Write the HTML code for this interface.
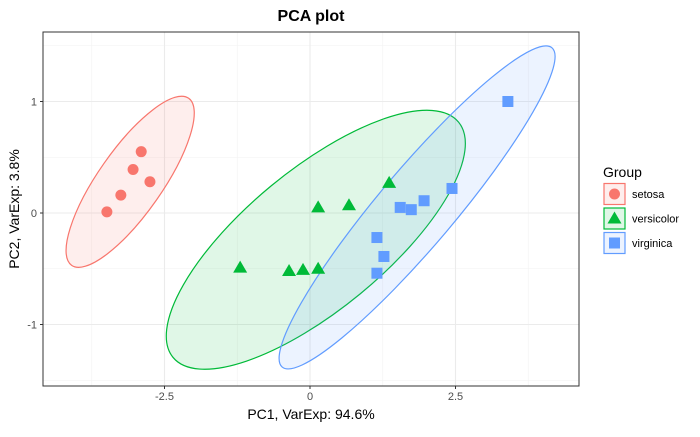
<!DOCTYPE html>
<html><head><meta charset="utf-8"><style>
body{margin:0;background:#fff;}
svg{font-family:"Liberation Sans",sans-serif;}
</style></head><body>
<svg id="c" width="700" height="432"></svg>
<script>
const groups=["setosa","versicolor","virginica"];
const colors=["#F8766D","#00BA38","#619CFF"];
const setosaX=[-3.49,-3.25,-3.04,-2.90,-2.75];
const setosaY=[0.01,0.16,0.39,0.55,0.28];
const versiX=[-1.20,-0.36,-0.12,0.14,0.14,0.67,1.36];
const versiY=[-0.49,-0.52,-0.51,-0.50,0.05,0.07,0.27];
const virgX=[3.40,2.44,1.96,1.74,1.55,1.15,1.27,1.15];
const virgY=[1.00,0.22,0.11,0.03,0.05,-0.22,-0.39,-0.54];
const xTicks=[-2.5,0,2.5];
const yTicks=[-1,0,1];
const xMinor=[-3.75,-1.25,1.25,3.75];
const yMinor=[-1.5,-0.5,0.5,1.5];
// ellipse: center x, center y (data), semi-axes (px), angle
const ellCX=[-3.09,0.10,1.84];
const ellCY=[0.28,-0.24,0.05];
const ellRx=[102,185,209];
const ellRy=[32,70,38];
const ellAng=[-55,-39.5,-49.8];

const L=43,R=579,T=32,B=386;
const X=v=>310+v*58.2;
const Y=v=>213-v*111.5;
const svg=document.getElementById('c');
const NS="http://www.w3.org/2000/svg";
function mk(tag,attrs,parent){const e=document.createElementNS(NS,tag);for(const k in attrs)e.setAttribute(k,attrs[k]);(parent||svg).appendChild(e);return e;}

mk('rect',{x:L,y:T,width:R-L,height:B-T,fill:'#fff'});
xMinor.forEach(v=>{const l=mk('line',{x1:X(v),x2:X(v),y1:T,y2:B,stroke:'#f2f2f2','stroke-width':0.6});

});
yMinor.forEach(v=>{const l=mk('line',{x1:L,x2:R,y1:Y(v),y2:Y(v),stroke:'#f2f2f2','stroke-width':0.6});

});
xTicks.forEach(v=>{const l=mk('line',{x1:X(v),x2:X(v),y1:T,y2:B,stroke:'#ebebeb','stroke-width':1.1});


mk('line',{x1:X(v),x2:X(v),y1:B,y2:B+3,stroke:'#333'});
const t=mk('text',{x:X(v),y:B+14,'font-size':11,fill:'#4d4d4d','text-anchor':'middle'});t.textContent=v;

});
yTicks.forEach(v=>{const l=mk('line',{x1:L,x2:R,y1:Y(v),y2:Y(v),stroke:'#ebebeb','stroke-width':1.1});


mk('line',{x1:L-3,x2:L,y1:Y(v),y2:Y(v),stroke:'#333'});
const t=mk('text',{x:L-6,y:Y(v)+4,'font-size':11,fill:'#4d4d4d','text-anchor':'end'});t.textContent=v;

});

groups.forEach((g,i)=>{const e=mk('ellipse',{cx:0,cy:0,rx:ellRx[i],ry:ellRy[i],fill:colors[i],'fill-opacity':0.12,stroke:colors[i],'stroke-width':1.2,transform:`translate(${X(ellCX[i])},${Y(ellCY[i])}) rotate(${ellAng[i]})`});

});

function pt(shape,x,y,c){let e;
if(shape==0)e=mk('circle',{cx:x,cy:y,r:5.5,fill:c});
else if(shape==1)e=mk('polygon',{points:`${x},${y-7} ${x-7},${y+5} ${x+7},${y+5}`,fill:c});
else e=mk('rect',{x:x-5.5,y:y-5.5,width:11,height:11,fill:c});
return e;}
const xs=[setosaX,versiX,virgX],ys=[setosaY,versiY,virgY];
groups.forEach((g,i)=>xs[i].forEach((v,j)=>{const e=pt(i,X(v),Y(ys[i][j]),colors[i]);

}));

mk('rect',{x:L,y:T,width:R-L,height:B-T,fill:'none',stroke:'#333','stroke-width':1});

let t=mk('text',{x:311,y:21,'font-size':16,'font-weight':'bold','text-anchor':'middle'});t.textContent='PCA plot';

t=mk('text',{x:311,y:419,'font-size':14,'text-anchor':'middle'});t.textContent='PC1, VarExp: 94.6%';

t=mk('text',{x:0,y:0,'font-size':14,'text-anchor':'middle',transform:'translate(19,209) rotate(-90)'});t.textContent='PC2, VarExp: 3.8%';

t=mk('text',{x:603,y:177,'font-size':14});t.textContent='Group';

groups.forEach((g,i)=>{const cy=194+i*24.5;
const r=mk('rect',{x:604,y:cy-10.5,width:21,height:21,fill:colors[i],'fill-opacity':0.12,stroke:colors[i],'stroke-width':1.2});

pt(i,614.5,cy,colors[i]);
const tt=mk('text',{x:632,y:cy+4,'font-size':11});tt.textContent=g;
});
</script>
</body></html>
